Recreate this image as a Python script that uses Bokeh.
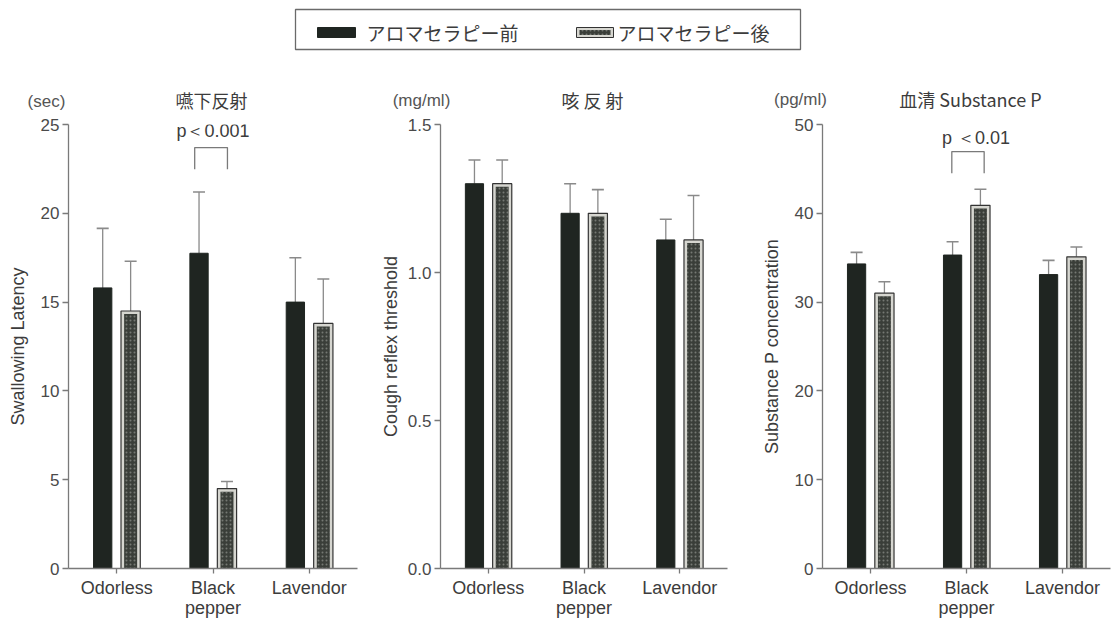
from bokeh.plotting import figure
from bokeh.models import (ColumnDataSource, FactorRange, Range1d, Whisker, TeeHead,
                          Label, FixedTicker, NumeralTickFormatter)
from bokeh.layouts import row, column
from bokeh.transform import dodge
from bokeh.core.properties import value
from bokeh.embed import file_html
from bokeh.resources import INLINE

# ---------------- data ----------------
categories = ["Odorless", "Black\npepper", "Lavendor"]
legend_labels = ["アロマセラピー前", "アロマセラピー後"]

swallow_before = [15.8, 17.75, 15.0]
swallow_before_top = [19.15, 21.2, 17.5]
swallow_after = [14.5, 4.5, 13.8]
swallow_after_top = [17.3, 4.9, 16.3]
swallow_ticks = [0, 5, 10, 15, 20, 25]

cough_before = [1.30, 1.20, 1.11]
cough_before_top = [1.38, 1.30, 1.18]
cough_after = [1.30, 1.20, 1.11]
cough_after_top = [1.38, 1.28, 1.26]
cough_ticks = [0.0, 0.5, 1.0, 1.5]

sp_before = [34.3, 35.3, 33.1]
sp_before_top = [35.6, 36.8, 34.7]
sp_after = [31.0, 40.9, 35.1]
sp_after_top = [32.3, 42.7, 36.2]
sp_ticks = [0, 10, 20, 30, 40, 50]

titles = ["嚥下反射", "咳 反 射", "血清 Substance P"]
units = ["(sec)", "(mg/ml)", "(pg/ml)"]
ylabels = ["Swallowing Latency", "Cough reflex threshold", "Substance P concentration"]
sig_texts = ["p＜0.001", None, "p ＜0.01"]

# ---------------- style ----------------
FONT = "Liberation Sans"
CJK = "Noto Sans CJK JP"
TXT = "#3c3c3c"
AX = "#7a7a7a"
DARK = "#1f2521"
INNER = "#3a3e39"
BOX_FILL = "#d6d6d0"
ERR = "#8a8a8a"
HEADER_H = 114

# screen positions (page pixels) of header texts
unit_pos = [(46, 101), (421, 100), (800, 99)]
title_pos = [(211, 99), (592, 99), (970, 98)]


def make_panel(ci, before, before_top, after, after_top, ticks, fmt,
               frame_w, border_left, border_right, label_standoff, sig=None):
    ymax = ticks[-1]
    p = figure(frame_width=frame_w, frame_height=444,
               x_range=FactorRange(*categories, range_padding=0),
               y_range=Range1d(0, ymax), output_backend="svg", toolbar_location=None,
               min_border_left=border_left, min_border_right=border_right,
               min_border_top=124 - HEADER_H, min_border_bottom=51)
    p.outline_line_color = None
    p.grid.visible = False
    p.background_fill_color = "white"
    p.border_fill_alpha = 0

    inner_top = [v - 0.007 * ymax for v in after]
    src = ColumnDataSource(dict(cat=categories, b=before, bt=before_top,
                                a=after, at=after_top, ai=inner_top))
    off = 0.145
    for key_lo, key_hi, o in (("b", "bt", -off), ("a", "at", off)):
        w = Whisker(source=src, base=dodge("cat", o, range=p.x_range),
                    lower=key_lo, upper=key_hi, line_color=ERR, line_width=1.3,
                    upper_head=TeeHead(size=12, line_color=ERR, line_width=1.6),
                    lower_head=None)
        p.add_layout(w)
    p.vbar(x=dodge("cat", -off, range=p.x_range), top="b", bottom=0, width=0.19,
           source=src, fill_color=DARK, line_color=DARK)
    p.vbar(x=dodge("cat", off, range=p.x_range), top="a", bottom=0, width=0.2,
           source=src, fill_color=BOX_FILL, line_color="#333333", line_width=1.2)
    p.vbar(x=dodge("cat", off, range=p.x_range), top="ai", bottom=0, width=0.135,
           source=src, fill_color=INNER, line_color=None,
           hatch_pattern="dot", hatch_color="#8e918b", hatch_scale=4, hatch_weight=1.2,
           hatch_alpha=0.7)

    p.yaxis.ticker = FixedTicker(ticks=ticks)
    p.yaxis.minor_tick_line_color = None
    if fmt is not None:
        p.yaxis.formatter = NumeralTickFormatter(format=fmt)
    for ax in (p.xaxis, p.yaxis):
        ax.axis_line_color = AX
        ax.axis_line_width = 1.3
        ax.major_tick_line_color = AX
        ax.major_tick_line_width = 1.3
        ax.major_tick_in = 0
        ax.major_label_text_font = FONT
        ax.major_label_text_color = "#4a4a4a"
    p.yaxis.major_tick_out = 6
    p.yaxis.major_label_text_font_size = "17px"
    p.yaxis.major_label_standoff = 3
    p.yaxis.axis_label = ylabels[ci]
    p.yaxis.axis_label_text_font = FONT
    p.yaxis.axis_label_text_font_style = "normal"
    p.yaxis.axis_label_text_font_size = "18px"
    p.yaxis.axis_label_text_color = TXT
    p.yaxis.axis_label_standoff = label_standoff
    p.xaxis.major_tick_out = 5
    p.xaxis.major_label_text_font_size = "18px"
    p.xaxis.major_label_standoff = 4
    p.xaxis.major_label_text_line_height = 1.0
    p.xaxis.major_label_text_color = TXT

    if sig is not None:
        tx, ty, xl, xr, yt, yb = sig
        p.add_layout(Label(x=tx, y=ty * ymax, text=sig_texts[ci], text_font=FONT,
                           text_font_size="18px", text_color=TXT, text_align="center",
                           text_baseline="middle"))
        p.line(x=[xl, xl, xr, xr], y=[yb * ymax, yt * ymax, yt * ymax, yb * ymax],
               line_color=AX, line_width=1.3)
    return p


p1 = make_panel(0, swallow_before, swallow_before_top, swallow_after, swallow_after_top,
                swallow_ticks, None, 289, 68, 20, 10,
                sig=(1.5, 0.986, 1.31, 1.65, 0.948, 0.899))
p2 = make_panel(1, cough_before, cough_before_top, cough_after, cough_after_top,
                cough_ticks, "0.0", 287, 63, 30, 4)
p3 = make_panel(2, sp_before, sp_before_top, sp_after, sp_after_top,
                sp_ticks, None, 288, 65, 3, 10,
                sig=(1.6, 0.97, 1.347, 1.684, 0.939, 0.89))

# ---------------- header strip (legend + panel titles) ----------------
lg = figure(width=1113, height=HEADER_H, x_range=Range1d(0, 1113),
            y_range=Range1d(HEADER_H, 0),
            output_backend="svg", toolbar_location=None, x_axis_type=None, y_axis_type=None,
            min_border=0)
lg.outline_line_color = None
lg.grid.visible = False
lg.quad(left=295, right=800, top=9, bottom=49, fill_color=None, line_color="#6a6a6a",
        line_width=1.3)
lg.quad(left=317, right=355, top=27, bottom=37, fill_color=DARK, line_color=DARK)
lg.quad(left=576, right=613, top=27, bottom=37, fill_color=BOX_FILL, line_color="#333333")
lg.quad(left=579, right=610, top=29.5, bottom=34.5, fill_color=INNER, line_color=None,
        hatch_pattern="dot", hatch_color="#8e918b", hatch_scale=4, hatch_alpha=0.7)
lg.text(x=[366, 617], y=[32, 32], text=legend_labels, text_font=value(CJK),
        text_font_size="19px", text_color=TXT, text_baseline="middle", text_align="left")
lg.text(x=[u[0] for u in unit_pos], y=[u[1] for u in unit_pos], text=units,
        text_font=value(FONT), text_font_size="17px", text_color="#555555",
        text_align="center", text_baseline="middle")
lg.text(x=[t[0] for t in title_pos], y=[t[1] for t in title_pos], text=titles,
        text_font=value(CJK), text_font_size="18px", text_color=TXT,
        text_align="center", text_baseline="middle")

layout = column(lg, row(p1, p2, p3))
open("out.html", "w").write(file_html(layout, INLINE))
